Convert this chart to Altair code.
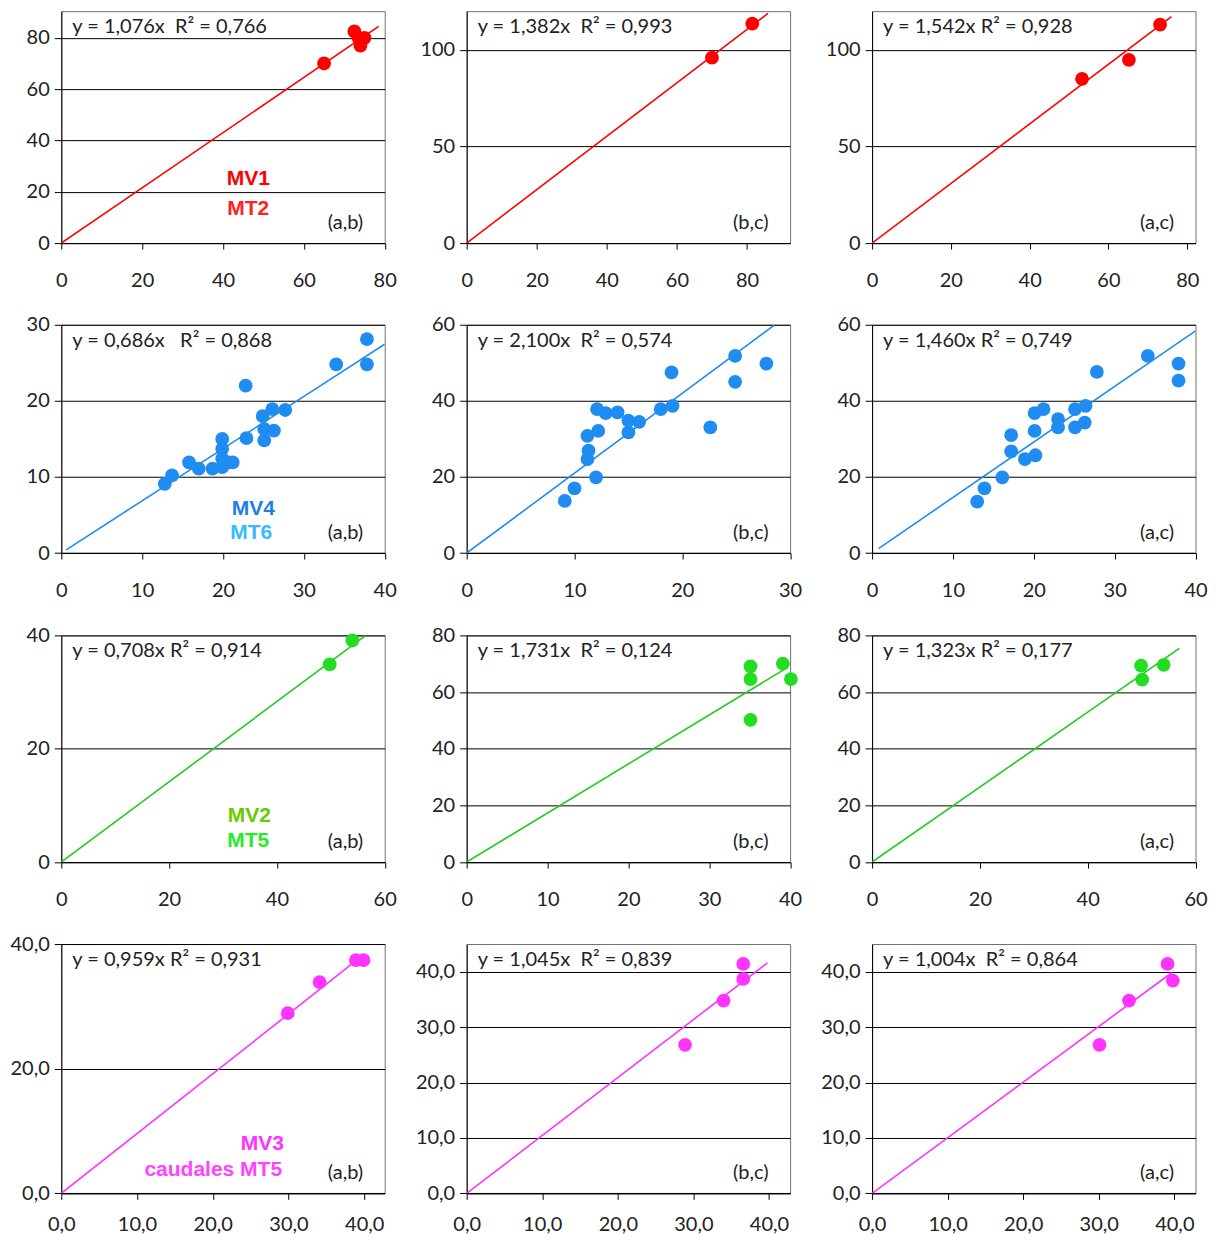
import altair as alt
import pandas as pd

FONT = "Lato"

# ---------------- data ----------------
# row 1 (red)
p1_x = [65, 72.5, 73.5, 74, 75]
p1_y = [70, 82.5, 80, 77, 80]
p2_x = [70, 81.5]
p2_y = [95.9, 113.5]
p3_x = [53.3, 65.2, 73.1]
p3_y = [85, 94.8, 113]
# row 2 (blue)
p4_x = [12.8, 13.7, 15.8, 17.0, 18.7, 19.9, 19.9, 19.9, 19.9, 20.7, 21.2, 22.9, 22.8,
        24.9, 25.1, 25.1, 26.1, 26.3, 27.7, 34.0, 37.8, 37.8]
p4_y = [9.1, 10.2, 11.9, 11.1, 11.1, 15.0, 13.7, 12.4, 11.3, 11.9, 11.9, 15.1, 22.0,
        18.0, 14.8, 16.3, 18.9, 16.1, 18.8, 24.8, 28.1, 24.8]
p5_x = [9.1, 10.0, 12.0, 11.2, 11.3, 11.2, 12.2, 12.1, 12.9, 14.0, 15.0, 15.0, 16.0,
        18.0, 19.1, 19.0, 22.6, 24.9, 24.9, 27.8]
p5_y = [13.7, 17.0, 19.9, 24.7, 26.9, 30.8, 32.1, 37.8, 36.8, 37.0, 31.7, 34.8, 34.5,
        37.8, 38.7, 47.5, 33.0, 51.8, 45.0, 49.8]
p6_x = [13.0, 13.9, 16.1, 17.2, 17.2, 18.9, 20.2, 20.1, 20.1, 21.2, 23.0, 23.0, 25.1,
        25.1, 26.3, 26.4, 27.8, 34.1, 37.9, 37.9]
p6_y = [13.5, 17.0, 19.9, 26.7, 31.0, 24.7, 25.7, 32.1, 36.8, 37.8, 33.0, 35.2, 33.0,
        37.8, 34.3, 38.7, 47.6, 51.8, 49.8, 45.3]
# row 3 (green)
p7_x = [49.8, 54.0]
p7_y = [34.9, 39.1]
p8_x = [35.1, 35.1, 35.1, 39.1, 40.1]
p8_y = [69.1, 64.6, 50.2, 70.0, 64.6]
p9_x = [49.9, 50.1, 54.1]
p9_y = [69.3, 64.4, 69.6]
# row 4 (magenta)
p10_x = [29.9, 34.1, 38.9, 39.9]
p10_y = [28.9, 33.9, 37.4, 37.4]
p11_x = [28.9, 34.0, 36.6, 36.6]
p11_y = [26.8, 34.8, 38.7, 41.4]
p12_x = [30.1, 34.0, 39.1, 39.8]
p12_y = [26.8, 34.8, 41.4, 38.4]

points_x = [p1_x, p2_x, p3_x, p4_x, p5_x, p6_x, p7_x, p8_x, p9_x, p10_x, p11_x, p12_x]
points_y = [p1_y, p2_y, p3_y, p4_y, p5_y, p6_y, p7_y, p8_y, p9_y, p10_y, p11_y, p12_y]

slopes = [1.076, 1.382, 1.542, 0.686, 2.100, 1.460, 0.708, 1.731, 1.323, 0.959, 1.045, 1.004]
r2_text = ["0,766", "0,993", "0,928", "0,868", "0,574", "0,749",
           "0,914", "0,124", "0,177", "0,931", "0,839", "0,864"]
line_start = [0, 0, 0, 0.6, 0, 0.8, 0, 0, 0, 0, 0, 0]
line_end = [78.5, 86, 76, 40, 28.5, 40, 56.5, 39.7, 57, 39.5, 39.8, 39.7]

x_domains = [[0, 80], [0, 92.3], [0, 82.1], [0, 40], [0, 30], [0, 40],
             [0, 60], [0, 40], [0, 60], [0, 42.7], [0, 42.8], [0, 42.8]]
y_domains = [[0, 90.4], [0, 120], [0, 120], [0, 30], [0, 60], [0, 60],
             [0, 40], [0, 80], [0, 80], [0, 40], [0, 45], [0, 45]]
x_ticks = [[0, 20, 40, 60, 80], [0, 20, 40, 60, 80], [0, 20, 40, 60, 80],
           [0, 10, 20, 30, 40], [0, 10, 20, 30], [0, 10, 20, 30, 40],
           [0, 20, 40, 60], [0, 10, 20, 30, 40], [0, 20, 40, 60],
           [0, 10, 20, 30, 40], [0, 10, 20, 30, 40], [0, 10, 20, 30, 40]]
y_ticks = [[0, 20, 40, 60, 80], [0, 50, 100], [0, 50, 100],
           [0, 10, 20, 30], [0, 20, 40, 60], [0, 20, 40, 60],
           [0, 20, 40], [0, 20, 40, 60, 80], [0, 20, 40, 60, 80],
           [0, 20, 40], [0, 10, 20, 30, 40], [0, 10, 20, 30, 40]]
pair_labels = ["(a,b)", "(b,c)", "(a,c)"]
series_top = ["MV1", "MV4", "MV2", "MV3"]
series_bottom = ["MT2", "MT6", "MT5", "caudales MT5"]

# ---------------- styling ----------------
row_colors = ["#FF0000", "#1E8CF0", "#22DD22", "#FF33FF"]
line_colors = ["#FF0000", "#1E8CF0", "#22CC22", "#FF33FF"]
top_colors = ["#FF0000", "#1E7FE8", "#66CC00", "#FF33FF"]
bottom_colors = ["#FF2222", "#33BBFF", "#22EE22", "#FF44FF"]
row_heights = [232, 228.3, 226.7, 249.4]
PANEL_W = 323.5
NB = "\u00a0"
gaps = [NB * 2, NB * 2, NB, NB * 3, NB * 2, NB,
        NB, NB * 2, NB, NB, NB * 2, NB * 2]
top_pos = [(187, 168), (192, 184), (188, 181), (201, 200)]
bottom_pos = [(187, 198), (190, 208), (187, 206), (152, 226)]
x_label_pad = [31, 31, 31, 25]
FS = 20


def fmt_expr(decimal):
    if decimal:
        return "replace(format(datum.value, '.1f'), '.', ',')"
    return "format(datum.value, 'd')"


def panel(i):
    row, col = divmod(i, 3)
    h = row_heights[row]
    decimal = row == 3
    xs = alt.Scale(domain=x_domains[i], nice=False, zero=True)
    ys = alt.Scale(domain=y_domains[i], nice=False, zero=True)
    xa = alt.Axis(values=x_ticks[i], grid=False, title=None, tickSize=6,
                  labelPadding=x_label_pad[row], labelBaseline="middle",
                  labelExpr=fmt_expr(decimal), labelFlush=False, labelOverlap=False,
                  domainColor="#000000", tickColor="#000000", labelColor="#222222",
                  labelFont=FONT, labelFontSize=FS)
    ya = alt.Axis(values=y_ticks[i], grid=True, gridColor="#000000", gridWidth=1, title=None,
                  tickSize=7, labelPadding=5, labelExpr=fmt_expr(decimal), labelFlush=False,
                  labelOverlap=False, domainColor="#000000", tickColor="#000000",
                  labelColor="#222222", labelFont=FONT, labelFontSize=FS)
    pts = pd.DataFrame({"x": points_x[i], "y": points_y[i]})
    ln = pd.DataFrame({"x": [line_start[i], line_end[i]],
                       "y": [slopes[i] * line_start[i], slopes[i] * line_end[i]]})
    base_line = alt.Chart(ln).mark_line(color=line_colors[row], strokeWidth=1.6, clip=True).encode(
        x=alt.X("x:Q", scale=xs, axis=xa), y=alt.Y("y:Q", scale=ys, axis=ya))
    dots = alt.Chart(pts).mark_circle(color=row_colors[row], opacity=1, size=190).encode(
        x=alt.X("x:Q", scale=xs, axis=xa), y=alt.Y("y:Q", scale=ys, axis=ya))
    one = alt.Data(values=[{"k": 1}])
    eq = ("y = " + f"{slopes[i]:.3f}".replace(".", ",") + "x" + gaps[i] +
          "R\u00b2 = " + r2_text[i])
    eq_text = alt.Chart(one).mark_text(align="left", baseline="top", font=FONT, fontSize=FS,
                                       color="#222222").encode(
        x=alt.value(11), y=alt.value(6), text=alt.value(eq))
    pair = alt.Chart(one).mark_text(align="right", baseline="middle", font=FONT, fontSize=FS,
                                    color="#222222").encode(
        x=alt.value(302), y=alt.value(h - 20), text=alt.value(pair_labels[col]))
    layers = [base_line, dots, eq_text, pair]
    if col == 0:
        t1 = alt.Chart(one).mark_text(align="center", baseline="middle", font="Liberation Sans",
                                      fontSize=21, fontWeight="bold", color=top_colors[row]).encode(
            x=alt.value(top_pos[row][0]), y=alt.value(top_pos[row][1]), text=alt.value(series_top[row]))
        t2 = alt.Chart(one).mark_text(align="center", baseline="middle", font="Liberation Sans",
                                      fontSize=21, fontWeight="bold", color=bottom_colors[row]).encode(
            x=alt.value(bottom_pos[row][0]), y=alt.value(bottom_pos[row][1]),
            text=alt.value(series_bottom[row]))
        layers += [t1, t2]
    return alt.layer(*layers).properties(width=PANEL_W, height=h)


chart = alt.concat(*[panel(i) for i in range(12)], columns=3,
                   spacing={"row": 81.7, "column": 81.5}, bounds="flush").properties(
    padding={"left": 1.3, "top": 2, "right": 0, "bottom": 0},
    background="white",
).configure_view(stroke="#707070", strokeWidth=1)

chart.save("out.html", embed_options={"renderer": "svg", "actions": False})
